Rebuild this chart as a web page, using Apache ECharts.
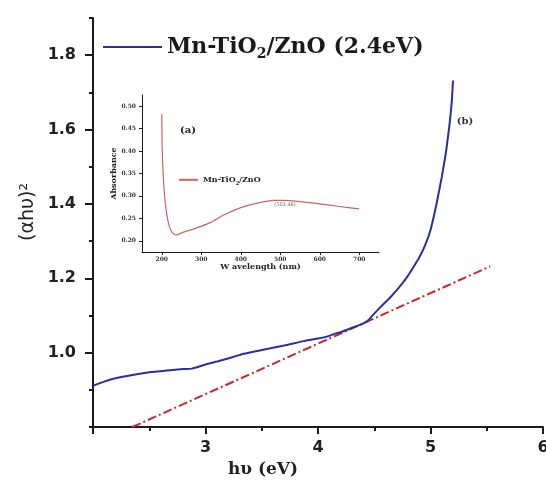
<!DOCTYPE html>
<html>
<head>
<meta charset="utf-8">
<script src="https://cdn.jsdelivr.net/npm/echarts@6/dist/echarts.min.js"></script>
<style>
  html, body { margin: 0; padding: 0; background: #fff; }
  #chart { width: 546px; height: 480px; }
</style>
</head>
<body>
<div id="chart"></div>
<script>
// Tauc plot: photon energy (eV) vs (αhυ)²
const energy = [2.00, 2.10, 2.20, 2.35, 2.50, 2.66, 2.80, 2.88, 3.00, 3.10, 3.20, 3.34, 3.50, 3.70, 3.87, 4.00, 4.08, 4.15, 4.20, 4.27, 4.35, 4.40, 4.45, 4.50, 4.55, 4.60, 4.65, 4.70, 4.75, 4.80, 4.85, 4.90, 4.95, 5.00, 5.05, 5.10, 5.14, 5.17, 5.19, 5.20];
const tauc = [0.911, 0.922, 0.931, 0.940, 0.947, 0.952, 0.956, 0.957, 0.968, 0.976, 0.984, 0.997, 1.007, 1.019, 1.031, 1.038, 1.043, 1.051, 1.055, 1.063, 1.072, 1.078, 1.088, 1.105, 1.121, 1.136, 1.151, 1.168, 1.186, 1.207, 1.231, 1.256, 1.287, 1.330, 1.395, 1.472, 1.544, 1.616, 1.678, 1.732];

// Linear extrapolation of the absorption edge
const fitEnergy = [2.35, 5.53];
const fitValue = [0.80, 1.232];

// Inset: UV-Vis absorbance spectrum
const wavelength = [200, 201, 204.5, 210, 219, 228, 236, 257, 280, 299, 324, 358, 400, 442, 484, 510, 544, 595, 646, 700];
const absorbance = [0.483, 0.409, 0.335, 0.276, 0.232, 0.217, 0.213, 0.220, 0.226, 0.232, 0.241, 0.258, 0.274, 0.284, 0.290, 0.290, 0.288, 0.283, 0.277, 0.271];

// Tick labels
const xTickLabels = ['3', '4', '5', '6'];
const yTickLabels = ['1.0', '1.2', '1.4', '1.6', '1.8'];
const insetXTicks = [200, 300, 400, 500, 600, 700];
const insetYTicks = [0.20, 0.25, 0.30, 0.35, 0.40, 0.45, 0.50];

const seriesName = 'Mn-TiO2/ZnO (2.4eV)';
const insetName = 'Mn-TiO2/ZnO';

const zip = (a, b) => a.map((v, i) => [v, b[i]]);

const axisBlack = '#1a1a1a';
const labelFont = 'DejaVu Sans';
const serif = 'DejaVu Serif';

const chart = echarts.init(document.getElementById('chart'), null, { renderer: 'canvas' });

chart.setOption({
  animation: false,
  backgroundColor: '#ffffff',
  grid: [
    { left: 93, right: 3, top: 18, bottom: 53, containLabel: false, outerBoundsMode: 'none' },
    { left: 142, top: 95, width: 237, height: 157, containLabel: false, outerBoundsMode: 'none' }
  ],
  legend: [
    {
      data: [seriesName],
      left: 97, top: 31,
      itemWidth: 59, itemHeight: 14,
      selectedMode: false,
      itemStyle: { opacity: 0 },
      formatter: () => '{b|Mn-TiO}{s|2}{b|/ZnO (2.4eV)}',
      textStyle: {
        rich: {
          b: { fontFamily: serif, fontWeight: 'bold', fontSize: 22, color: '#1a1a1a', lineHeight: 28 },
          s: { fontFamily: serif, fontWeight: 'bold', fontSize: 14, color: '#1a1a1a', lineHeight: 12, verticalAlign: 'bottom' }
        }
      }
    },
    {
      data: [insetName],
      left: 173, top: 170,
      itemWidth: 19, itemHeight: 12,
      selectedMode: false,
      itemStyle: { opacity: 0 },
      formatter: () => '{b|Mn-TiO}{s|2}{b|/ZnO}',
      textStyle: {
        rich: {
          b: { fontFamily: serif, fontWeight: 'bold', fontSize: 8, color: '#222', lineHeight: 12 },
          s: { fontFamily: serif, fontWeight: 'bold', fontSize: 5, color: '#222', lineHeight: 6, verticalAlign: 'bottom' }
        }
      }
    }
  ],
  xAxis: [
    {
      gridIndex: 0, type: 'value', min: 2, max: 6, interval: 1,
      axisLine: { show: true, onZero: false, lineStyle: { color: axisBlack, width: 2 } },
      axisTick: { show: true, length: 7, lineStyle: { color: axisBlack, width: 2 } },
      minorTick: { show: true, splitNumber: 2, length: 4, lineStyle: { color: axisBlack, width: 2 } },
      splitLine: { show: false },
      axisLabel: {
        margin: 13,
        fontFamily: labelFont, fontWeight: 'bold', fontSize: 16, color: '#222',
        formatter: v => { const s = String(Math.round(v)); return xTickLabels.includes(s) ? s : ''; }
      }
    },
    {
      gridIndex: 1, type: 'value', min: 150, max: 750,
      name: 'W avelength (nm)', nameLocation: 'middle', nameGap: 10,
      nameTextStyle: { fontFamily: serif, fontWeight: 'bold', fontSize: 8, color: '#222' },
      axisLine: { show: true, onZero: false, lineStyle: { color: axisBlack, width: 1 } },
      axisTick: { show: true, length: 3, customValues: insetXTicks, lineStyle: { color: axisBlack, width: 1 } },
      splitLine: { show: false },
      axisLabel: {
        margin: 4, customValues: insetXTicks,
        fontFamily: serif, fontWeight: 'bold', fontSize: 6, color: '#333'
      }
    }
  ],
  yAxis: [
    {
      gridIndex: 0, type: 'value', min: 0.8, max: 1.9, position: 'left', offset: 0,
      axisLine: { show: true, onZero: false, lineStyle: { color: axisBlack, width: 2 } },
      axisTick: { show: true, length: 8, customValues: [1.0, 1.2, 1.4, 1.6, 1.8], lineStyle: { color: axisBlack, width: 2 } },
      splitLine: { show: false },
      axisLabel: {
        margin: 17, customValues: [1.0, 1.2, 1.4, 1.6, 1.8],
        fontFamily: labelFont, fontWeight: 'bold', fontSize: 16, color: '#222',
        formatter: v => { const s = v.toFixed(1); return yTickLabels.includes(s) ? s : ''; }
      }
    },
    {
      // minor ticks every 0.1 on the same left axis
      gridIndex: 0, type: 'value', min: 0.8, max: 1.9, interval: 0.1, position: 'left', offset: 0,
      axisLine: { show: false },
      axisTick: { show: true, length: 4, lineStyle: { color: axisBlack, width: 2 } },
      splitLine: { show: false },
      axisLabel: { show: false }
    },
    {
      gridIndex: 1, type: 'value', min: 0.175, max: 0.525,
      name: 'Absorbance', nameLocation: 'middle', nameGap: 24,
      nameTextStyle: { fontFamily: serif, fontWeight: 'bold', fontSize: 8, color: '#222' },
      axisLine: { show: true, onZero: false, lineStyle: { color: axisBlack, width: 1 } },
      axisTick: { show: true, length: 3, customValues: insetYTicks, lineStyle: { color: axisBlack, width: 1 } },
      splitLine: { show: false },
      axisLabel: {
        margin: 6, customValues: insetYTicks,
        fontFamily: serif, fontWeight: 'bold', fontSize: 6, color: '#333',
        formatter: v => v.toFixed(2)
      }
    }
  ],
  series: [
    {
      name: seriesName, type: 'line', xAxisIndex: 0, yAxisIndex: 0,
      data: zip(energy, tauc),
      symbol: 'none', smooth: 0.15,
      lineStyle: { color: '#2e2ea0', width: 2 },
      itemStyle: { color: '#2e2ea0' },
      z: 3
    },
    {
      name: 'fit', type: 'line', xAxisIndex: 0, yAxisIndex: 0,
      data: zip(fitEnergy, fitValue),
      symbol: 'none',
      lineStyle: { color: '#c8282a', width: 2, type: [9, 3, 2, 3] },
      z: 2
    },
    {
      name: insetName, type: 'line', xAxisIndex: 1, yAxisIndex: 2,
      data: zip(wavelength, absorbance),
      symbol: 'none', smooth: 0.2,
      lineStyle: { color: '#cc6662', width: 1.2 },
      itemStyle: { color: '#cc6662' },
      z: 3
    }
  ],
  graphic: [
    {
      type: 'text', x: 28, y: 212, rotation: Math.PI / 2,
      style: { text: '(αhυ)²', font: '19px "DejaVu Sans"', fill: '#222', align: 'center', verticalAlign: 'middle' }
    },
    {
      type: 'text', x: 263, y: 470,
      style: { text: 'hυ (eV)', font: 'bold 17px "DejaVu Serif"', fill: '#222', align: 'center', verticalAlign: 'middle' }
    },
    {
      type: 'text', x: 188, y: 130,
      style: { text: '(a)', font: 'bold 10px "DejaVu Serif"', fill: '#222', align: 'center', verticalAlign: 'middle' }
    },
    {
      type: 'text', x: 465, y: 121,
      style: { text: '(b)', font: 'bold 10px "DejaVu Serif"', fill: '#333', align: 'center', verticalAlign: 'middle' }
    },
    {
      type: 'text', x: 285, y: 205,
      style: { text: '(503.48)', font: '5px "DejaVu Serif"', fill: '#666', align: 'center', verticalAlign: 'middle' }
    }
  ]
});
</script>
</body>
</html>
